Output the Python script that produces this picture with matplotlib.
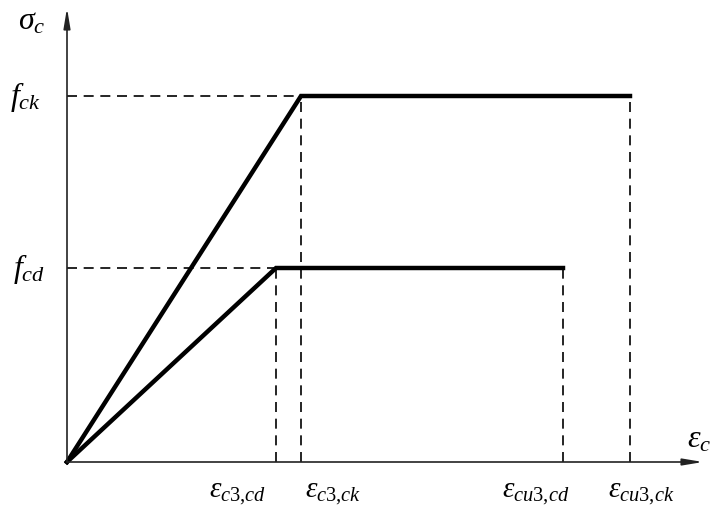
import matplotlib.pyplot as plt

plt.rcParams['mathtext.fontset'] = 'custom'
plt.rcParams['mathtext.rm'] = 'Liberation Serif'
plt.rcParams['mathtext.it'] = 'Liberation Serif:italic'

# Strain and stress values of the two bilinear diagrams (drawing units)
eps_c3_cd = 209
eps_c3_ck = 234
eps_cu3_cd = 496
eps_cu3_ck = 563
f_cd = 194
f_ck = 366

eps_ck = [0, eps_c3_ck, eps_cu3_ck]
sig_ck = [0, f_ck, f_ck]
eps_cd = [0, eps_c3_cd, eps_cu3_cd]
sig_cd = [0, f_cd, f_cd]

x_labels = [r'$\varepsilon_{\mathit{c3{,}cd}}$', r'$\varepsilon_{\mathit{c3{,}ck}}$',
            r'$\varepsilon_{\mathit{cu3{,}cd}}$', r'$\varepsilon_{\mathit{cu3{,}ck}}$']
x_label_pos = [171, 266, 469, 574]

fig = plt.figure(figsize=(7.11, 5.10), dpi=100)
ax = fig.add_axes([0, 0, 1, 1])
ax.set_xlim(-67, 644)
ax.set_ylim(-47, 463)
ax.axis('off')

# axes with arrow heads
arrow = dict(arrowstyle='-|>,head_length=1.2,head_width=0.2', color='#222222',
             lw=1.2, shrinkA=0, shrinkB=0)
ax.annotate('', xy=(636, 0), xytext=(0, 0), arrowprops=arrow)
ax.annotate('', xy=(0, 454), xytext=(0, 0), arrowprops=arrow)

# dashed guides
dash = dict(color='black', lw=1.2, ls=(0, (6, 4)))
ax.plot([0, eps_c3_ck], [f_ck, f_ck], **dash)
ax.plot([0, eps_c3_cd], [f_cd, f_cd], **dash)
ax.plot([eps_c3_cd, eps_c3_cd], [0, f_cd], **dash)
ax.plot([eps_cu3_cd, eps_cu3_cd], [0, f_cd], **dash)
ax.plot([eps_c3_ck, eps_c3_ck], [0, f_ck], **dash)
ax.plot([eps_cu3_ck, eps_cu3_ck], [0, f_ck], **dash)

# stress-strain curves
ax.plot(eps_ck, sig_ck, color='black', lw=3.2, solid_joinstyle='miter')
ax.plot(eps_cd, sig_cd, color='black', lw=3.2, solid_joinstyle='miter')

fs = 23
ax.text(-35, 442, r'$\sigma_c$', fontsize=fs, ha='center', va='center')
ax.text(-41, f_ck, r'$f_{ck}$', fontsize=fs, ha='center', va='center')
ax.text(-38, f_cd, r'$f_{cd}$', fontsize=fs, ha='center', va='center')
ax.text(620, 24, r'$\varepsilon_c$', fontsize=fs, ha='left', va='center')
for lab, x in zip(x_labels, x_label_pos):
    ax.text(x, -30, lab, fontsize=21, ha='center', va='center')

fig.savefig('out.png', dpi=100)
